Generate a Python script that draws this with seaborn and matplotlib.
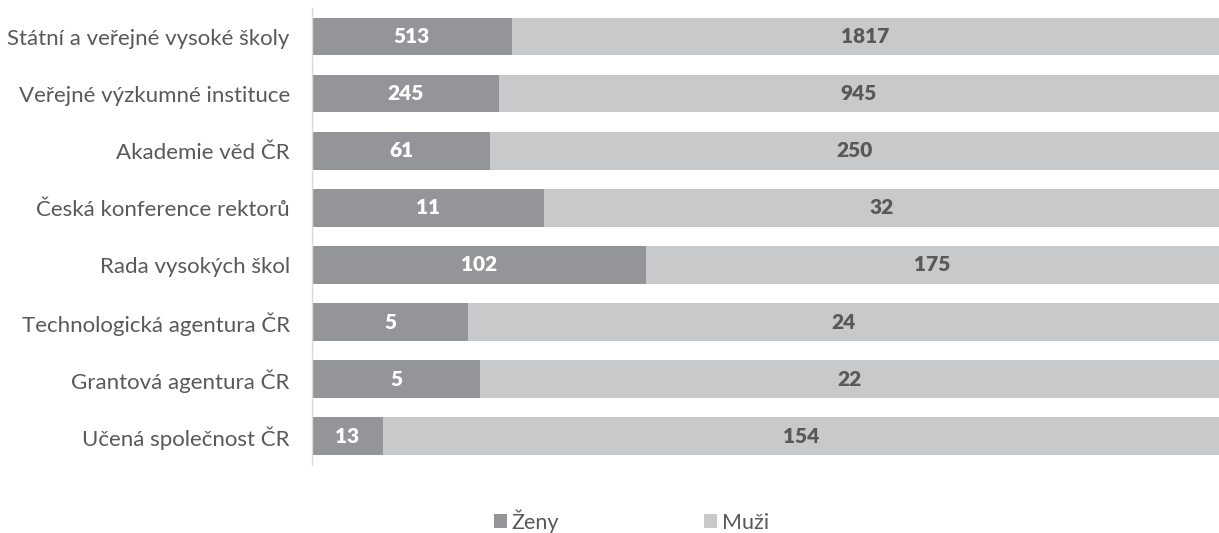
import numpy as np
import pandas as pd
import matplotlib
matplotlib.use('Agg')
import matplotlib.pyplot as plt
import seaborn as sns

# data
categories = [
    'Státní a veřejné vysoké školy',
    'Veřejné výzkumné instituce',
    'Akademie věd ČR',
    'Česká konference rektorů',
    'Rada vysokých škol',
    'Technologická agentura ČR',
    'Grantová agentura ČR',
    'Učená společnost ČR',
]
zeny = [513, 245, 61, 11, 102, 5, 5, 13]
muzi = [1817, 945, 250, 32, 175, 24, 22, 154]

df = pd.DataFrame({'kategorie': categories, 'zeny': zeny, 'muzi': muzi})
df['total'] = df['zeny'] + df['muzi']
df['podil_zeny'] = df['zeny'] / df['total']
df['podil_celkem'] = 1.0

sns.set_theme(style='white')
plt.rcParams['font.family'] = ['Lato', 'DejaVu Sans']

C_ZENY = '#939598'
C_MUZI = '#c8c9ca'
C_TEXT = '#595959'

fig = plt.figure(figsize=(12.19, 5.33), dpi=100)
ax = fig.add_axes([0.256, 0.128, 0.744, 0.857])

sns.barplot(data=df, y='kategorie', x='podil_celkem', orient='h', color=C_MUZI,
            saturation=1, width=0.66, ax=ax, label='Muži', linewidth=0)
sns.barplot(data=df, y='kategorie', x='podil_zeny', orient='h', color=C_ZENY,
            saturation=1, width=0.66, ax=ax, label='Ženy', linewidth=0)

# popisky hodnot
for i, row in df.iterrows():
    ax.text(row['podil_zeny'] / 2, i, str(row['zeny']), ha='center', va='center',
            color='white', fontsize=15, fontweight='heavy')
    ax.text((row['podil_zeny'] + 1) / 2, i, str(row['muzi']), ha='center', va='center',
            color=C_TEXT, fontsize=15, fontweight='heavy')

ax.set_xlim(0, 1)
ax.set_xlabel('')
ax.set_ylabel('')
ax.set_xticks([])
ax.tick_params(axis='y', length=0, labelsize=16, labelcolor=C_TEXT, pad=16)
for s in ['top', 'right', 'bottom']:
    ax.spines[s].set_visible(False)
ax.spines['left'].set_color('#d9d9d9')
ax.spines['left'].set_linewidth(1)

handles, labels = ax.get_legend_handles_labels()
order = [labels.index('Ženy'), labels.index('Muži')]
fig.legend([handles[k] for k in order], [labels[k] for k in order],
           loc='lower center', bbox_to_anchor=(0.518, -0.036), ncol=2, frameon=False,
           fontsize=15.5, labelcolor=C_TEXT, handlelength=0.6, handleheight=0.6,
           handletextpad=0.2, columnspacing=6.75)
if ax.get_legend() is not None:
    ax.get_legend().remove()

fig.savefig('out.png', dpi=100)
